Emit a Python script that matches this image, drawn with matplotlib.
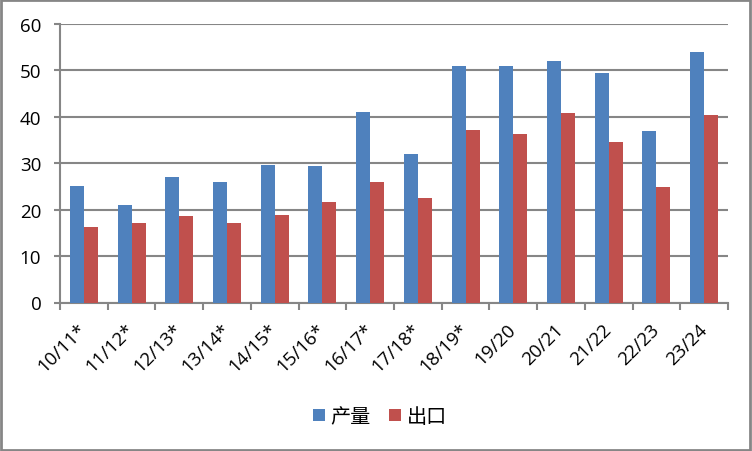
import matplotlib.pyplot as plt
import numpy as np
from matplotlib.patches import Rectangle

plt.rcParams['font.family'] = ['Open Sans', 'Noto Sans CJK SC', 'DejaVu Sans']

seasons = ['10/11*', '11/12*', '12/13*', '13/14*', '14/15*', '15/16*', '16/17*',
           '17/18*', '18/19*', '19/20', '20/21', '21/22', '22/23', '23/24']
production = [25.0, 21.0, 27.0, 25.9, 29.6, 29.4, 41.0,
              31.9, 50.9, 50.9, 52.0, 49.4, 36.9, 53.9]
exports = [16.2, 17.1, 18.6, 17.1, 18.8, 21.6, 25.9,
           22.5, 37.1, 36.3, 40.8, 34.5, 24.8, 40.3]

grey = '#868686'
x = np.arange(len(seasons))
w = 0.293

fig = plt.figure(figsize=(7.52, 4.52), dpi=100)
ax = fig.add_axes([60 / 752, 1 - 303.5 / 452, 668 / 752, 278.8 / 452])

ax.bar(x - w / 2, production, w, color='#4F81BD', label='产量', zorder=3)
ax.bar(x + w / 2, exports, w, color='#C0504D', label='出口', zorder=3)

ax.set_xlim(-0.5, len(seasons) - 0.5)
ax.set_ylim(0, 60)
ax.set_yticks(range(0, 61, 10))
ax.yaxis.grid(True, color=grey, linewidth=1.5, zorder=0)

ax.set_xticks(x)
ax.set_xticklabels(seasons, rotation=45, ha='right', va='center',
                   rotation_mode='anchor', fontsize=13.5)
ax.set_xticks(np.arange(-0.5, len(seasons), 1), minor=True)
ax.tick_params(axis='x', which='major', length=0, pad=17)
ax.tick_params(axis='x', which='minor', length=5, width=1.5, color=grey)
ax.tick_params(axis='y', length=4.5, width=1.5, color=grey, labelsize=13.5, pad=9)

for side in ['top', 'right']:
    ax.spines[side].set_visible(False)
for side in ['left', 'bottom']:
    ax.spines[side].set_color(grey)
    ax.spines[side].set_linewidth(1.5)

fig.legend(loc='center', bbox_to_anchor=(380 / 752, 1 - 418 / 452), ncol=2,
           frameon=False, fontsize=14.5, handlelength=0.6, handleheight=0.6,
           handletextpad=0.3, columnspacing=0.9)

fig.patches.append(Rectangle((0.001, 0.002), 0.997, 0.996, transform=fig.transFigure,
                             fill=False, edgecolor=grey, linewidth=2))

fig.savefig('out.png', dpi=100)
